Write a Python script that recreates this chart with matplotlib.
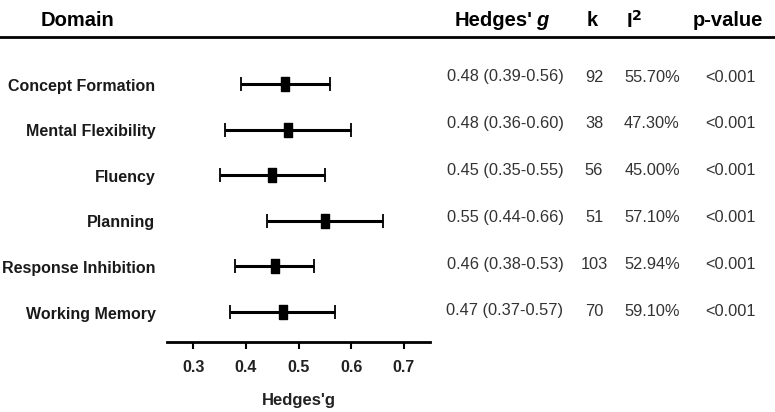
import numpy as np
import matplotlib.pyplot as plt
import matplotlib.transforms as mtransforms
from matplotlib.lines import Line2D

plt.rcParams['font.family'] = ['Liberation Sans', 'DejaVu Sans']

# Data
domains = ['Concept Formation', 'Mental Flexibility', 'Fluency', 'Planning',
           'Response Inhibition', 'Working Memory']
g = [0.475, 0.48, 0.45, 0.55, 0.455, 0.47]
ci_low = [0.39, 0.36, 0.35, 0.44, 0.38, 0.37]
ci_high = [0.56, 0.60, 0.55, 0.66, 0.53, 0.57]
g_text = ['0.48 (0.39-0.56)', '0.48 (0.36-0.60)', '0.45 (0.35-0.55)',
          '0.55 (0.44-0.66)', '0.46 (0.38-0.53)', '0.47 (0.37-0.57)']
k = [92, 38, 56, 51, 103, 70]
i2 = ['55.70%', '47.30%', '45.00%', '57.10%', '52.94%', '59.10%']
pval = ['<0.001'] * 6
ticks = [0.3, 0.4, 0.5, 0.6, 0.7]

W, H = 775, 412
fig = plt.figure(figsize=(W / 100, H / 100), dpi=100)
ax = fig.add_axes([167 / W, (H - 342) / H, (430 - 167) / W, (342 - 50) / H])

y = np.arange(len(domains))
g = np.array(g)
err = [g - np.array(ci_low), np.array(ci_high) - g]
# tall rectangle marker
rect = [(-0.3, -0.5), (0.3, -0.5), (0.3, 0.5), (-0.3, 0.5), (-0.3, -0.5)]
ax.errorbar(g, y, xerr=err, fmt='none', ecolor='black', elinewidth=2.2,
            capsize=5, capthick=1.3)
ax.plot(g, y, linestyle='none', marker=rect, ms=9.5, color='black')

row = 45.6  # pixels between rows
ax.set_xlim(0.25, 0.75)
ax.set_ylim(5 + 30 / row, -34 / row)
ax.set_xticks(ticks)
ax.set_xticklabels([f'{t:.1f}' for t in ticks], fontsize=11.5,
                   fontweight='bold', color='#222222')
ax.set_yticks([])
for s in ['left', 'top', 'right']:
    ax.spines[s].set_visible(False)
ax.spines['bottom'].set_linewidth(2)
ax.tick_params(axis='x', width=1.5, length=5, pad=8)
ax.set_xlabel("Hedges'g", fontsize=12, fontweight='bold', labelpad=13,
              color='#222222')

# Domain labels follow the plot rows
tr = mtransforms.blended_transform_factory(fig.transFigure, ax.transData)
for i in range(len(domains)):
    fig.text(155.5 / W, i + 2 / row, domains[i], transform=tr, ha='right',
             va='center', fontsize=11.5, fontweight='bold', color='#1a1a1a')

# Table columns (own row spacing, as in the original)
for i in range(len(domains)):
    ty = (H - (77 + 46.8 * i)) / H
    fig.text(505 / W, ty, g_text[i], ha='center', va='center',
             fontsize=11.8, color='#333333')
    fig.text(594 / W, ty, str(k[i]), ha='center', va='center',
             fontsize=11.8, color='#333333')
    fig.text(652 / W, ty, i2[i], ha='center', va='center',
             fontsize=11.8, color='#333333')
    fig.text(730 / W, ty, pval[i], ha='center', va='center',
             fontsize=11.8, color='#333333')

# Header
hy = (H - 21) / H
hfs = 14.5
fig.text(77 / W, hy, 'Domain', ha='center', va='center', fontsize=hfs,
         fontweight='bold')
fig.text(532 / W, hy, "Hedges'", ha='right', va='center', fontsize=hfs,
         fontweight='bold')
fig.text(536 / W, hy, 'g', ha='left', va='center', fontsize=hfs,
         fontweight='bold', style='italic')
fig.text(592 / W, hy, 'k', ha='center', va='center', fontsize=hfs,
         fontweight='bold')
fig.text(634 / W, hy, 'I$^\\mathbf{2}$', ha='center', va='center',
         fontsize=hfs, fontweight='bold')
fig.text(728 / W, hy, 'p-value', ha='center', va='center', fontsize=hfs,
         fontweight='bold')
fig.add_artist(Line2D([0, 1], [(H - 37) / H] * 2, transform=fig.transFigure,
                      color='black', lw=2))

fig.savefig('out.png', dpi=100)
